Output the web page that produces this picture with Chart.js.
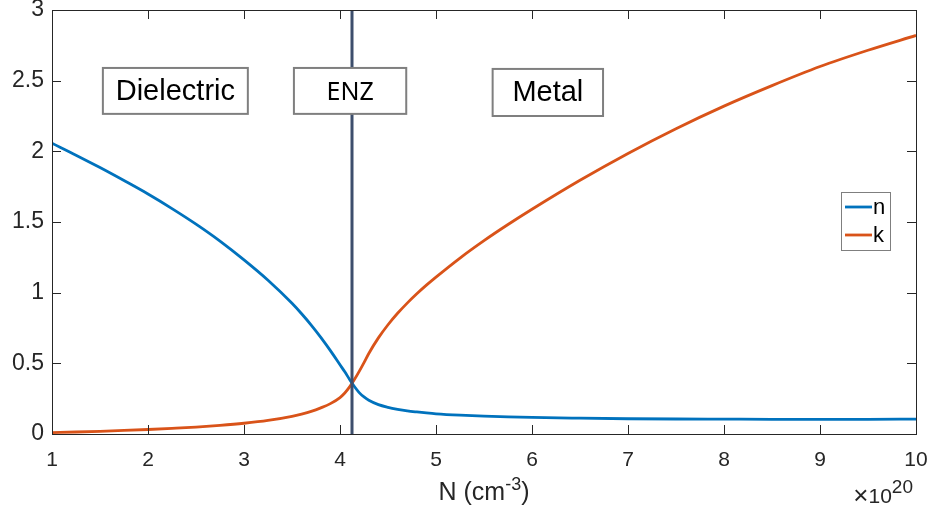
<!DOCTYPE html>
<html><head><meta charset="utf-8">
<script src="https://cdn.jsdelivr.net/npm/chart.js@4"></script>
<style>html,body{margin:0;padding:0;background:#fff}#wrap{width:931px;height:514px}</style>
</head><body><div id="wrap"><canvas id="c" width="931" height="514"></canvas></div>
<script>
// Carrier concentration N (x 1e20 cm^-3)
const carrierN = [1, 1.25, 1.5, 1.75, 2, 2.25, 2.5, 2.75, 3, 3.25, 3.5, 3.6, 3.7, 3.8, 3.9, 4.0, 4.05, 4.1, 4.15, 4.2, 4.25, 4.3, 4.4, 4.5, 4.6, 4.7, 4.8, 4.9, 5.0, 5.25, 5.5, 5.75, 6, 6.5, 7, 7.5, 8, 8.5, 9, 9.5, 10];
const nValues = [2.057, 1.973, 1.885, 1.793, 1.698, 1.595, 1.485, 1.365, 1.232, 1.088, 0.925, 0.851, 0.771, 0.684, 0.59, 0.49, 0.44, 0.386, 0.336, 0.293, 0.262, 0.239, 0.208, 0.189, 0.175, 0.164, 0.156, 0.149, 0.143, 0.133, 0.126, 0.121, 0.117, 0.112, 0.108, 0.106, 0.105, 0.104, 0.104, 0.104, 0.105];
const kValues = [0.010, 0.014, 0.019, 0.025, 0.032, 0.040, 0.049, 0.061, 0.076, 0.096, 0.125, 0.141, 0.160, 0.185, 0.215, 0.258, 0.290, 0.333, 0.385, 0.443, 0.505, 0.570, 0.680, 0.773, 0.854, 0.926, 0.992, 1.053, 1.110, 1.245, 1.368, 1.482, 1.590, 1.795, 1.985, 2.160, 2.320, 2.465, 2.600, 2.715, 2.820];
const xTickValues = [1, 2, 3, 4, 5, 6, 7, 8, 9, 10];
const yTickValues = [0, 0.5, 1, 1.5, 2, 2.5, 3];
const seriesLabels = ['n', 'k'];
const enzPosition = 4.125;
const regionNames = ['Dielectric', 'ENZ', 'Metal'];
// region label boxes in data coordinates: [xMin, xMax, yTop, yBottom]
const regionBoxes = [[1.53, 3.04, 2.59, 2.265], [3.52, 4.69, 2.59, 2.265], [5.59, 6.74, 2.583, 2.25]];

const FONT = "'Liberation Sans', Arial, sans-serif";
const AX = '#262626';

const overlay = {
  id: 'overlay',
  afterDatasetsDraw(chart) {
    const ctx = chart.ctx, a = chart.chartArea, xs = chart.scales.x, ys = chart.scales.y;
    ctx.save();
    // ENZ vertical line
    const vx = xs.getPixelForValue(enzPosition);
    ctx.strokeStyle = '#3d4e6c'; ctx.lineWidth = 3;
    ctx.beginPath(); ctx.moveTo(vx, a.top); ctx.lineTo(vx, a.bottom); ctx.stroke();
    // frame
    ctx.strokeStyle = AX; ctx.lineWidth = 1;
    ctx.strokeRect(Math.round(a.left) + 0.5, Math.round(a.top) + 0.5, Math.round(a.right - a.left), Math.round(a.bottom - a.top));
    // inward ticks
    ctx.beginPath();
    xTickValues.forEach(v => {
      const p = Math.round(xs.getPixelForValue(v)) + 0.5;
      ctx.moveTo(p, a.bottom); ctx.lineTo(p, a.bottom - 9);
      ctx.moveTo(p, a.top); ctx.lineTo(p, a.top + 9);
    });
    yTickValues.forEach(v => {
      const p = Math.round(ys.getPixelForValue(v)) + 0.5;
      ctx.moveTo(a.left, p); ctx.lineTo(a.left + 9, p);
      ctx.moveTo(a.right, p); ctx.lineTo(a.right - 9, p);
    });
    ctx.stroke();
    // region boxes
    regionBoxes.forEach((b, i) => {
      const x0 = xs.getPixelForValue(b[0]), x1 = xs.getPixelForValue(b[1]);
      const y0 = ys.getPixelForValue(b[2]), y1 = ys.getPixelForValue(b[3]);
      ctx.fillStyle = '#fff'; ctx.fillRect(x0, y0, x1 - x0, y1 - y0);
      ctx.strokeStyle = '#7f7f7f'; ctx.lineWidth = 2;
      ctx.strokeRect(x0, y0, x1 - x0, y1 - y0);
      ctx.fillStyle = '#000';
      ctx.font = i === 1 ? "25px 'Noto Sans', sans-serif" : "29px " + FONT;
      ctx.textAlign = 'center'; ctx.textBaseline = 'middle';
      ctx.fillText(regionNames[i], (x0 + x1) / 2, (y0 + y1) / 2 + (i === 1 ? 2 : 1));
    });
    // legend
    const lx = a.right - 75, ly = a.top + 182;
    ctx.fillStyle = '#fff'; ctx.fillRect(lx, ly, 49, 58);
    ctx.strokeStyle = '#7f7f7f'; ctx.lineWidth = 1;
    ctx.strokeRect(lx + 0.5, ly + 0.5, 49, 58);
    chart.data.datasets.forEach((ds, i) => {
      const yy = ly + 15 + i * 28;
      ctx.strokeStyle = ds.borderColor; ctx.lineWidth = 2.8;
      ctx.beginPath(); ctx.moveTo(lx + 4, yy); ctx.lineTo(lx + 31, yy); ctx.stroke();
      ctx.fillStyle = '#000'; ctx.font = "22px " + FONT;
      ctx.textAlign = 'left'; ctx.textBaseline = 'middle';
      ctx.fillText(ds.label, lx + 32, yy + 1);
    });
    // x axis title with superscript
    ctx.fillStyle = AX; ctx.textBaseline = 'alphabetic'; ctx.textAlign = 'left';
    const t1 = 'N (cm', t2 = '-3', t3 = ')';
    const big = "25px " + FONT, small = "18px " + FONT;
    ctx.font = big; const w1 = ctx.measureText(t1).width, w3 = ctx.measureText(t3).width;
    ctx.font = small; const w2 = ctx.measureText(t2).width;
    let sx = (a.left + a.right) / 2 - (w1 + w2 + w3) / 2;
    const by = 500;
    ctx.font = big; ctx.fillText(t1, sx, by); sx += w1;
    ctx.font = small; ctx.fillText(t2, sx, by - 10); sx += w2;
    ctx.font = big; ctx.fillText(t3, sx, by);
    // exponent
    const fx = "26px " + FONT, f10 = "21px " + FONT, f20 = "19px " + FONT;
    ctx.font = fx; const wx = ctx.measureText('\u00d7').width;
    ctx.font = f10; const w10 = ctx.measureText('10').width;
    ctx.font = f20; const w20 = ctx.measureText('20').width;
    let ex = a.right - 3 - wx - w10 - w20;
    ctx.font = fx; ctx.fillText('\u00d7', ex, 504); ex += wx;
    ctx.font = f10; ctx.fillText('10', ex, 503); ex += w10;
    ctx.font = f20; ctx.fillText('20', ex, 493);
    ctx.restore();
  }
};

function zeroPad(s) { s.paddingTop = 0; s.paddingBottom = 0; s.paddingLeft = 0; s.paddingRight = 0; }

new Chart(document.getElementById('c'), {
  type: 'scatter',
  data: {
    datasets: [
      { label: seriesLabels[0], data: carrierN.map((x, i) => ({ x, y: nValues[i] })), borderColor: '#0072BD', backgroundColor: '#0072BD' },
      { label: seriesLabels[1], data: carrierN.map((x, i) => ({ x, y: kValues[i] })), borderColor: '#D95319', backgroundColor: '#D95319' }
    ]
  },
  options: {
    responsive: false, animation: false, devicePixelRatio: 1,
    showLine: true,
    elements: { point: { radius: 0, hoverRadius: 0 }, line: { borderWidth: 2.8, cubicInterpolationMode: 'monotone' } },
    layout: { padding: { top: 10, right: 15, left: 0, bottom: 0 } },
    plugins: { legend: { display: false }, tooltip: { enabled: false } },
    scales: {
      x: {
        type: 'linear', min: 1, max: 10,
        afterBuildTicks: s => { s.ticks = xTickValues.map(v => ({ value: v })); },
        afterFit: s => { s.height = 80; zeroPad(s); },
        grid: { display: false, drawTicks: false }, border: { display: false },
        ticks: { font: { family: FONT, size: 21 }, color: AX, padding: 14, maxRotation: 0, autoSkip: false, callback: v => String(v) }
      },
      y: {
        type: 'linear', min: 0, max: 3,
        afterBuildTicks: s => { s.ticks = yTickValues.map(v => ({ value: v })); },
        afterFit: s => { s.width = 52; zeroPad(s); },
        grid: { display: false, drawTicks: false }, border: { display: false },
        ticks: { font: { family: FONT, size: 23 }, color: AX, padding: 8, autoSkip: false, callback: v => String(v) }
      }
    }
  },
  plugins: [overlay]
});
</script></body></html>
